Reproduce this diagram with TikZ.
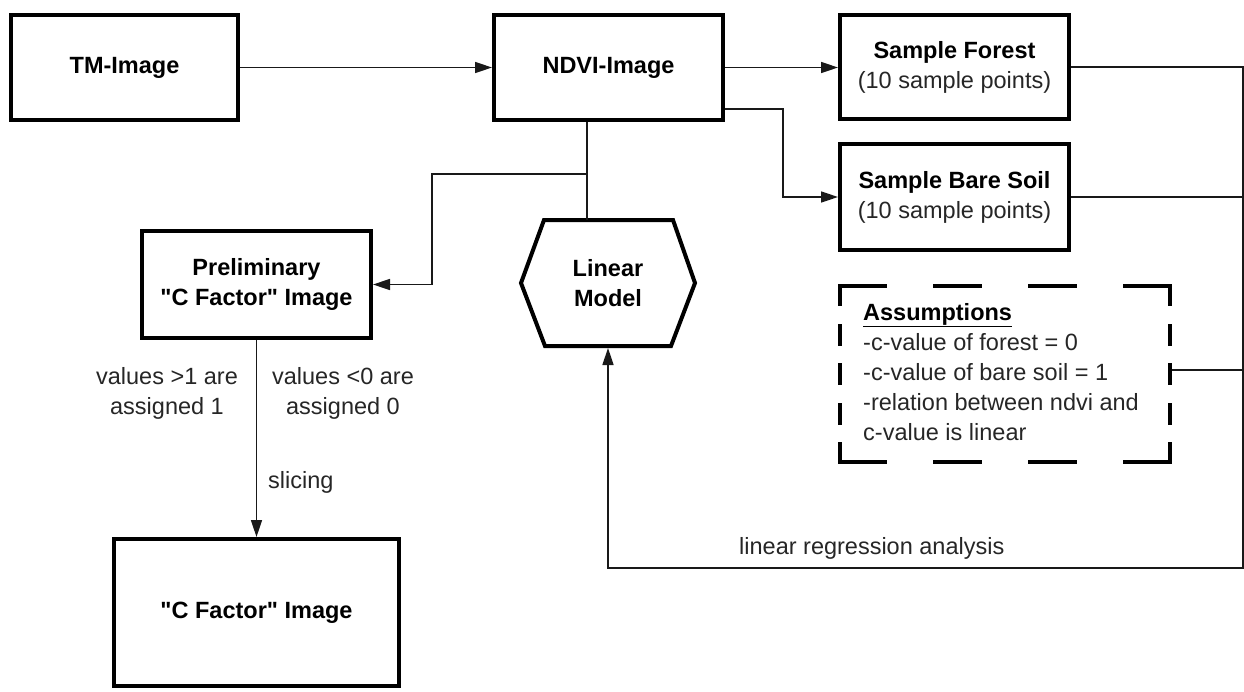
\documentclass[tikz,border=0pt]{standalone}
\usepackage{fontspec}
\setmainfont{Liberation Sans}[Ligatures=TeXOff]
\usetikzlibrary{arrows.meta,calc}
\begin{document}
\begin{tikzpicture}[x=1pt,y=-1pt,
  box/.style={draw=black, line width=4pt, align=center, inner sep=0pt,
    font=\fontsize{23.5}{30}\selectfont\bfseries},
  plain/.style={font=\fontsize{23.5}{30}\selectfont, text=black!85, inner sep=0pt, align=center},
  conn/.style={draw=black!90, line width=1.6pt},
  arr/.style={conn, -{Triangle[length=17pt,width=11pt]}},
  dashh/.style={line width=4pt, line cap=rect, dash pattern=on 45pt off 50pt},
  dashv/.style={line width=4pt, line cap=rect, dash pattern=on 18pt off 21.5pt}]
\useasboundingbox (0,0) rectangle (1244,691);

% boxes
\node[box, minimum width=227pt, minimum height=105pt] (tm) at (124.5,67.5) {TM-Image};
\node[box, minimum width=229pt, minimum height=105pt] (ndvi) at (608.5,67.5) {NDVI-Image};
\node[box, minimum width=229pt, minimum height=104pt] (forest) at (954.5,67) {Sample Forest\\\mdseries\color{black!85}(10 sample points)};
\node[box, minimum width=229pt, minimum height=106pt] (soil) at (954.5,197) {Sample Bare Soil\\\mdseries\color{black!85}(10 sample points)};
\node[box, minimum width=229pt, minimum height=107pt] (prelim) at (256.5,284.5) {Preliminary\\"C Factor" Image};
\node[box, minimum width=285pt, minimum height=147pt] (cfac) at (256.5,612.5) {"C Factor" Image};

% hexagon
\node[box, draw=none] (hex) at (608,283) {Linear\\Model};
\draw[line width=4pt, line join=miter]
  ($(hex.center)+(-64,-63)$) -- ($(hex.center)+(65,-63)$) -- ($(hex.center)+(87,0)$)
  -- ($(hex.center)+(63,63)$) -- ($(hex.center)+(-63,63)$) -- ($(hex.center)+(-87,0)$) -- cycle;
\coordinate (hextop) at ($(hex.center)+(-21,-63)$);
\coordinate (hexbot) at ($(hex.center)+(0,65)$);

% assumptions box
\node[minimum width=330pt, minimum height=176pt, outer sep=0pt, inner sep=0pt] (assump) at (1005,374) {};
\draw[dashh] (assump.north west) -- (assump.north east);
\draw[dashh] (assump.south west) -- (assump.south east);
\draw[dashv] (assump.north west) -- (assump.south west);
\draw[dashv] (assump.north east) -- (assump.south east);
\node[plain, align=left, anchor=west] (assumptxt) at (863,372)
  {\textbf{\color{black}\underline{Assumptions}}\\-c-value of forest = 0\\-c-value of bare soil = 1\\-relation between ndvi and\\c-value is linear};

% labels
\node[plain] (lab1) at (167,393) {values >1 are\\assigned 1};
\node[plain] (lab2) at (343,393) {values <0 are\\assigned 0};
\node[plain, anchor=west] (lab3) at (268,482) {slicing};
\node[plain, anchor=west] (lab4) at (739,548) {linear regression analysis};

% connectors
\draw[arr] (tm.east) -- (ndvi.west);
\draw[arr] (ndvi.east) -- (ndvi.east -| forest.west);
\draw[arr] ([yshift=-41.5pt]ndvi.east) -- ++(58,0) |- (soil.west);
\draw[conn] ([xshift=-21.5pt]ndvi.south) -- (hextop);
\coordinate (br) at ($(hextop)+(0,-46)$);
\draw[arr] (br) -- ++(-155,0) |- (prelim.east);
\draw[arr] (prelim.south) -- (cfac.north);

\coordinate (rail) at (1243,568);
\draw[conn] (soil.east) -- (soil.east -| rail);
\draw[conn] ([xshift=2pt,yshift=4pt]assump.east) -- ([yshift=4pt]assump.east -| rail);
\draw[arr] (forest.east) -- (forest.east -| rail) -- (rail) -| (hexbot);
\end{tikzpicture}
\end{document}
